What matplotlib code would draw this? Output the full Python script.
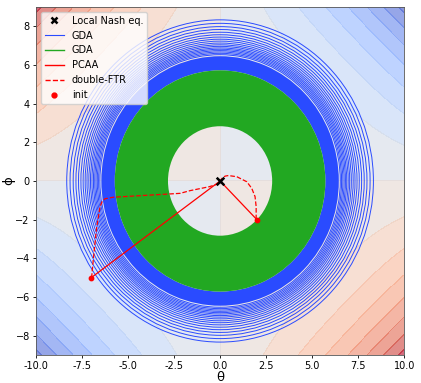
import numpy as np
import matplotlib.pyplot as plt
from matplotlib.patches import Circle, Annulus

# equilibrium and starting points
nash = [0.0, 0.0]
init_theta = [-7.0, 2.0]
init_phi = [-5.0, -2.0]

# PCAA runs (go straight to the equilibrium)
pcaa_1_theta = [-7.0, 0.0]
pcaa_1_phi = [-5.0, 0.0]
pcaa_2_theta = [2.0, 0.0]
pcaa_2_phi = [-2.0, 0.0]

# double-FTR runs
ftr_1_theta = [-6.98, -6.89, -6.70, -6.52, -6.40, -6.25, -5.80, -3.80, -2.17, -1.63, -0.60, -0.09, 0.0]
ftr_1_phi = [-5.01, -4.09, -2.37, -1.33, -1.05, -0.92, -0.84, -0.73, -0.64, -0.50, -0.30, -0.15, 0.0]
ftr_2_theta = [1.96, 1.96, 1.90, 1.72, 1.45, 0.91, 0.45, 0.27, 0.12, 0.0]
ftr_2_phi = [-1.98, -1.33, -0.81, -0.38, -0.04, 0.22, 0.28, 0.25, 0.15, 0.0]

# GDA runs: radii of the visible turns and of the solid bands
gda_blue_rings = [8.33, 8.15, 7.98, 7.83, 7.69, 7.56, 7.44, 7.33, 7.23, 7.13,
                  7.04, 6.96, 6.88, 6.81, 6.74, 6.67, 6.60, 6.53]
gda_blue_band = [5.72, 6.45]
gda_green_band = [2.83, 5.72]

blue = '#2a4bff'
green = '#22a822'

fig = plt.figure(figsize=(4.21, 3.83), dpi=100)
ax = fig.add_axes([0.0855, 0.073, 0.8745, 0.909])

th = np.linspace(-10, 10, 401)
ph = np.linspace(-9, 9, 361)
T, P = np.meshgrid(th, ph)
Z = -T * P * (T ** 2 + P ** 2) ** 0.75
step = 600
ax.contourf(T, P, Z, levels=np.arange(-8, 9) * step, cmap='coolwarm', alpha=0.6,
            vmin=-7.6 * step, vmax=7.6 * step)

ax.add_patch(Annulus((0, 0), gda_blue_band[1], gda_blue_band[1] - gda_blue_band[0],
                     color=blue, lw=0))
for r in gda_blue_rings:
    ax.add_patch(Circle((0, 0), r, fill=False, ec=blue, lw=0.7))
ax.add_patch(Annulus((0, 0), gda_green_band[1], gda_green_band[1] - gda_green_band[0],
                     color=green, lw=0))

ax.plot(pcaa_1_theta, pcaa_1_phi, color='red', lw=0.9)
ax.plot(pcaa_2_theta, pcaa_2_phi, color='red', lw=0.9)
ax.plot(ftr_1_theta, ftr_1_phi, color='red', ls='--', lw=0.9)
ax.plot(ftr_2_theta, ftr_2_phi, color='red', ls='--', lw=0.9)
ax.scatter(init_theta, init_phi, color='red', s=10, zorder=5)
ax.scatter([nash[0]], [nash[1]], marker='x', color='black', s=30, linewidths=1.8, zorder=6)

# legend proxies
h = [
    plt.Line2D([], [], marker='x', mew=1.8, color='black', ls='', markersize=5, label='Local Nash eq.'),
    plt.Line2D([], [], color=blue, lw=0.8, label='GDA'),
    plt.Line2D([], [], color=green, lw=1, label='GDA'),
    plt.Line2D([], [], color='red', lw=1, label='PCAA'),
    plt.Line2D([], [], color='red', ls='--', lw=1, label='double-FTR'),
    plt.Line2D([], [], marker='o', color='red', ls='', markersize=3.5, label='init'),
]
ax.legend(handles=h, loc='upper left', fontsize=7, framealpha=0.8)

ax.set_xlim(-10, 10)
ax.set_ylim(-9, 9)
ax.set_xticks(np.arange(-10, 10.1, 2.5))
ax.set_xticklabels(['%.1f' % v for v in np.arange(-10, 10.1, 2.5)])
ax.set_yticks(np.arange(-8, 9, 2))
ax.tick_params(labelsize=7, length=2.5, width=0.6, pad=2)
for s in ax.spines.values():
    s.set_linewidth(0.6)
    s.set_color('#555555')
ax.set_xlabel('θ', fontsize=9.5, labelpad=0)
ax.set_ylabel('ϕ', fontsize=9.5, labelpad=0)

fig.savefig('out.png', dpi=100)
